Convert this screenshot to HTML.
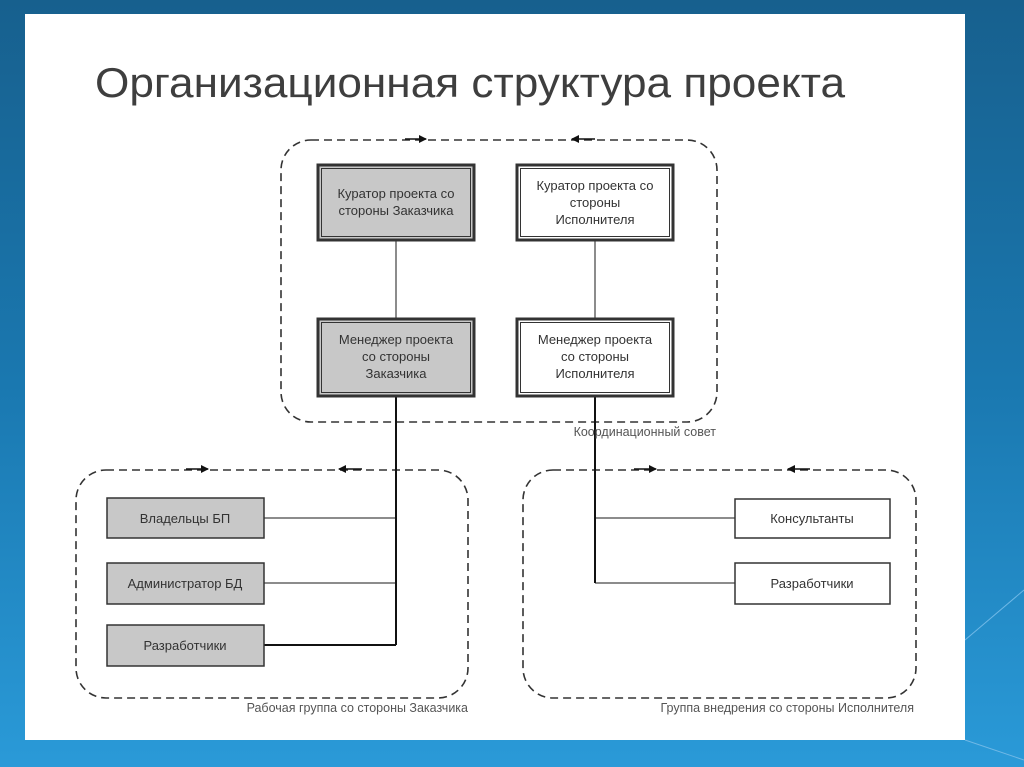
<!DOCTYPE html>
<html><head><meta charset="utf-8"><style>
html,body{margin:0;padding:0;width:1024px;height:767px;overflow:hidden;background:linear-gradient(180deg,#17608e 0%,#1a78b0 50%,#2a9ad8 100%);}
svg{position:absolute;left:0;top:0}
text{font-family:"Liberation Sans",sans-serif}
</style></head><body>
<svg width="1024" height="767" viewBox="0 0 1024 767">
<line x1="965" y1="640" x2="1024" y2="590" stroke="#6fb8e6" stroke-width="1"/>
<line x1="965" y1="740" x2="1024" y2="760" stroke="#6fb8e6" stroke-width="1"/>
<rect x="25" y="14" width="940" height="726" fill="#fff"/>
<text x="95" y="97" font-size="42" fill="#3e3e3e" textLength="750" lengthAdjust="spacingAndGlyphs">Организационная структура проекта</text>
<defs><marker id="a" markerWidth="8" markerHeight="8" refX="7" refY="4" orient="auto" markerUnits="userSpaceOnUse"><path d="M0,0 L8,4 L0,8z" fill="#111"/></marker></defs>
<g fill="none" stroke="#333" stroke-width="1.6" stroke-dasharray="8,5">
<rect x="281" y="140" width="436" height="282" rx="30"/>
<rect x="76" y="470" width="392" height="228" rx="30"/>
<rect x="523" y="470" width="393" height="228" rx="30"/>
</g>
<g stroke="#111" stroke-width="1.6">
<line x1="405" y1="139" x2="426" y2="139" marker-end="url(#a)"/>
<line x1="595" y1="139" x2="572" y2="139" marker-end="url(#a)"/>
<line x1="186" y1="469" x2="208" y2="469" marker-end="url(#a)"/>
<line x1="362" y1="469" x2="339" y2="469" marker-end="url(#a)"/>
<line x1="634" y1="469" x2="656" y2="469" marker-end="url(#a)"/>
<line x1="810" y1="469" x2="788" y2="469" marker-end="url(#a)"/>
</g>
<g stroke="#666" stroke-width="1.5">
<line x1="396" y1="240" x2="396" y2="318"/>
<line x1="595" y1="240" x2="595" y2="318"/>
<line x1="264" y1="518" x2="396" y2="518"/>
<line x1="264" y1="583" x2="396" y2="583"/>
<line x1="595" y1="518" x2="735" y2="518"/>
<line x1="595" y1="583" x2="735" y2="583"/>
</g>
<g stroke="#111" stroke-width="2">
<line x1="396" y1="396" x2="396" y2="645"/>
<line x1="595" y1="396" x2="595" y2="583"/>
<line x1="264" y1="645" x2="396" y2="645"/>
</g>
<g stroke="#333">
<rect x="318" y="165" width="156" height="75" fill="#c8c8c8" stroke-width="3"/>
<rect x="321.5" y="168.5" width="149" height="68" fill="none" stroke-width="1"/>
<rect x="517" y="165" width="156" height="75" fill="#fff" stroke-width="3"/>
<rect x="520.5" y="168.5" width="149" height="68" fill="none" stroke-width="1"/>
<rect x="318" y="319" width="156" height="77" fill="#c8c8c8" stroke-width="3"/>
<rect x="321.5" y="322.5" width="149" height="70" fill="none" stroke-width="1"/>
<rect x="517" y="319" width="156" height="77" fill="#fff" stroke-width="3"/>
<rect x="520.5" y="322.5" width="149" height="70" fill="none" stroke-width="1"/>
<rect x="107" y="498" width="157" height="40" fill="#c8c8c8" stroke-width="1.5"/>
<rect x="107" y="563" width="157" height="41" fill="#c8c8c8" stroke-width="1.5"/>
<rect x="107" y="625" width="157" height="41" fill="#c8c8c8" stroke-width="1.5"/>
<rect x="735" y="499" width="155" height="39" fill="#fff" stroke-width="1.5"/>
<rect x="735" y="563" width="155" height="41" fill="#fff" stroke-width="1.5"/>
</g>
<g font-size="13" fill="#333" text-anchor="middle">
<text x="396" y="198">Куратор проекта со</text>
<text x="396" y="215">стороны Заказчика</text>
<text x="595" y="190">Куратор проекта со</text>
<text x="595" y="207">стороны</text>
<text x="595" y="224">Исполнителя</text>
<text x="396" y="344">Менеджер проекта</text>
<text x="396" y="361">со стороны</text>
<text x="396" y="378">Заказчика</text>
<text x="595" y="344">Менеджер проекта</text>
<text x="595" y="361">со стороны</text>
<text x="595" y="378">Исполнителя</text>
<text x="185" y="523">Владельцы БП</text>
<text x="185" y="588">Администратор БД</text>
<text x="185" y="650">Разработчики</text>
<text x="812" y="523">Консультанты</text>
<text x="812" y="588">Разработчики</text>
</g>
<g font-size="12.5" fill="#555" text-anchor="end">
<text x="716" y="436">Координационный совет</text>
<text x="468" y="712">Рабочая группа со стороны Заказчика</text>
<text x="914" y="712">Группа внедрения со стороны Исполнителя</text>
</g>
</svg>
</body></html>
